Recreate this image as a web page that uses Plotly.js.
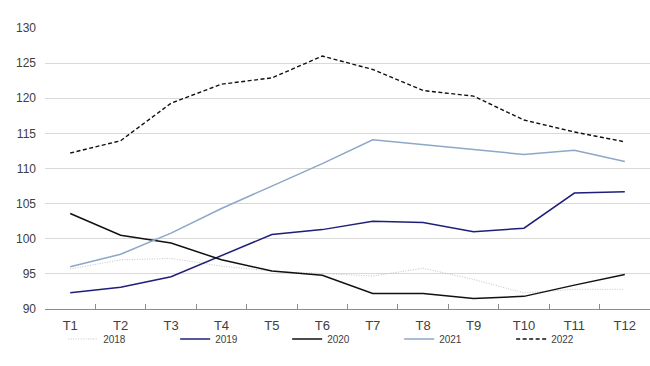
<!DOCTYPE html>
<html>
<head>
<meta charset="utf-8">
<script src="https://cdn.plot.ly/plotly-3.0.1.min.js"></script>
<style>html,body{margin:0;padding:0;background:#fff;}#chart{width:650px;height:366px;}</style>
</head>
<body>
<div id="chart"></div>
<script>
const months = ["T1","T2","T3","T4","T5","T6","T7","T8","T9","T10","T11","T12"];
const y2018 = [95.7, 97.0, 97.2, 96.1, 95.4, 95.0, 94.7, 95.8, 94.2, 92.3, 92.8, 92.8];
const y2019 = [92.3, 93.1, 94.6, 97.6, 100.6, 101.3, 102.5, 102.3, 101.0, 101.5, 106.5, 106.7];
const y2020 = [103.6, 100.5, 99.4, 97.0, 95.4, 94.8, 92.2, 92.2, 91.5, 91.8, 93.4, 94.9];
const y2021 = [96.0, 97.8, 100.8, 104.3, 107.5, 110.7, 114.1, 113.4, 112.7, 112.0, 112.6, 111.0];
const y2022 = [112.2, 113.95, 119.3, 122.0, 122.9, 126.0, 124.1, 121.1, 120.3, 116.9, 115.2, 113.8];
const seriesNames = ["2018","2019","2020","2021","2022"];

const styles = [
  {color:"#c4c4c4", width:1, dash:"1px,1.5px"},
  {color:"#1f1f7a", width:1.5, dash:"solid"},
  {color:"#111111", width:1.5, dash:"solid"},
  {color:"#8da7c6", width:1.5, dash:"solid"},
  {color:"#111111", width:1.4, dash:"4px,2.5px"}
];
const ys = [y2018, y2019, y2020, y2021, y2022];
const traces = ys.map((y,i)=>({
  x: months, y: y, name: seriesNames[i], type:"scatter", mode:"lines",
  line: styles[i]
}));

const layout = {
  width:650, height:366,
  margin:{l:45, r:0, t:28, b:57, autoexpand:false},
  paper_bgcolor:"#fff", plot_bgcolor:"#fff",
  font:{family:"Liberation Sans, Arial, sans-serif", color:"#404040"},
  showlegend:true,
  legend:{orientation:"h", x:0.03, xanchor:"left", y:-0.055, yanchor:"top",
    font:{size:10, family:"Liberation Sans, Arial, sans-serif", color:"#404040"},
    entrywidth:67, entrywidthmode:"pixels", traceorder:"normal", itemwidth:30,
    bgcolor:"rgba(0,0,0,0)"},
  xaxis:{type:"category", range:[-0.5,11.5], showgrid:false, showline:true, linecolor:"#8c8c8c", linewidth:1,
    ticks:"inside", ticklen:5, tickcolor:"#8c8c8c", tickson:"boundaries",
    tickfont:{size:13, color:"#404040"}, ticklabelstandoff:4, zeroline:false, fixedrange:true},
  yaxis:{range:[90,130], dtick:5, tick0:90, showgrid:true, gridcolor:"#d9d9d9", gridwidth:1,
    showline:false, zeroline:false, ticks:"", tickfont:{size:12, color:"#404040"}, ticklabelstandoff:8, fixedrange:true}
};
Plotly.newPlot("chart", traces, layout, {displayModeBar:false, staticPlot:true});
</script>
</body>
</html>
